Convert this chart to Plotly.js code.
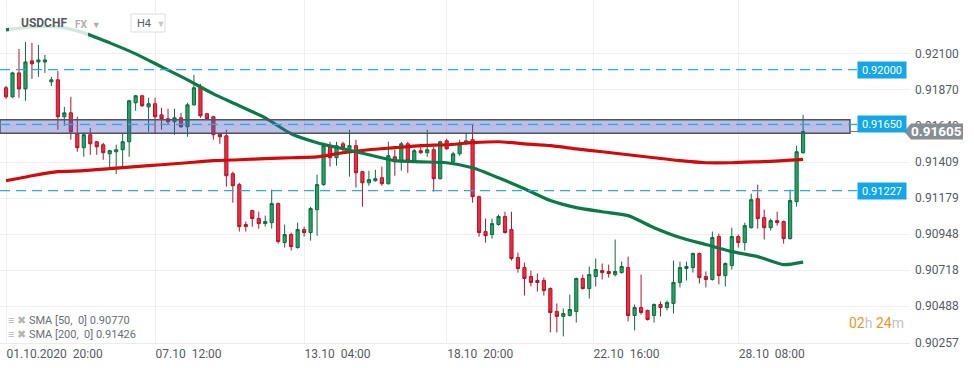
<!DOCTYPE html>
<html><head><meta charset="utf-8">
<script src="https://cdn.plot.ly/plotly-3.0.1.min.js"></script>
<style>html,body{margin:0;padding:0;background:#fff;}#chart{width:974px;height:368px;}</style>
</head><body><div id="chart"></div>
<script>
// ---- data (USDCHF, H4) ----
const openP = [0.91884,0.91826,0.91979,0.91877,0.92056,0.92049,0.92049,0.91922,0.91935,0.91699,0.91724,0.91590,0.91501,0.91584,0.91539,0.91520,0.91462,0.91475,0.91488,0.91539,0.91788,0.91833,0.91762,0.91782,0.91711,0.91686,0.91667,0.91692,0.91635,0.91775,0.91884,0.91718,0.91699,0.91590,0.91577,0.91335,0.91265,0.91010,0.91099,0.91048,0.91016,0.91022,0.91144,0.90895,0.90946,0.90863,0.90978,0.90959,0.91105,0.91265,0.91507,0.91437,0.91526,0.91494,0.91514,0.91348,0.91277,0.91290,0.91309,0.91271,0.91443,0.91411,0.91526,0.91418,0.91482,0.91469,0.91488,0.91303,0.91545,0.91411,0.91462,0.91526,0.91552,0.91188,0.90965,0.90946,0.91010,0.91061,0.90978,0.90799,0.90735,0.90678,0.90652,0.90652,0.90601,0.90454,0.90423,0.90429,0.90454,0.90665,0.90601,0.90678,0.90716,0.90710,0.90690,0.90703,0.90735,0.90429,0.90480,0.90461,0.90429,0.90499,0.90480,0.90506,0.90640,0.90729,0.90735,0.90825,0.90678,0.90659,0.90933,0.90684,0.90748,0.90933,0.90895,0.90990,0.91175,0.91054,0.90990,0.91035,0.91029,0.90920,0.91156,0.91469];
const highP = [0.91896,0.91986,0.92132,0.92177,0.92171,0.92158,0.92094,0.91954,0.91992,0.91762,0.91826,0.91699,0.91597,0.91628,0.91545,0.91533,0.91488,0.91520,0.91590,0.91807,0.91839,0.91839,0.91820,0.91820,0.91756,0.91750,0.91750,0.91724,0.91788,0.91967,0.91909,0.91724,0.91705,0.91597,0.91616,0.91348,0.91277,0.91029,0.91105,0.91092,0.91067,0.91233,0.91150,0.91010,0.90959,0.91022,0.90997,0.91124,0.91329,0.91533,0.91539,0.91539,0.91539,0.91616,0.91552,0.91354,0.91354,0.91360,0.91380,0.91539,0.91488,0.91539,0.91539,0.91494,0.91507,0.91616,0.91507,0.91545,0.91558,0.91475,0.91552,0.91597,0.91648,0.91195,0.91048,0.91048,0.91073,0.91092,0.91092,0.90831,0.90767,0.90716,0.90697,0.90671,0.90608,0.90506,0.90474,0.90562,0.90671,0.90690,0.90742,0.90793,0.90761,0.90754,0.90914,0.90773,0.90805,0.90499,0.90690,0.90467,0.90506,0.90518,0.90525,0.90780,0.90773,0.90773,0.90831,0.90831,0.90710,0.90965,0.90952,0.90767,0.90990,0.90946,0.91022,0.91207,0.91265,0.91105,0.91048,0.91092,0.91035,0.91233,0.91514,0.91711];
const lowP = [0.91813,0.91820,0.91820,0.91801,0.91941,0.91954,0.91979,0.91896,0.91616,0.91641,0.91552,0.91475,0.91443,0.91456,0.91456,0.91424,0.91373,0.91333,0.91380,0.91443,0.91737,0.91762,0.91603,0.91590,0.91616,0.91648,0.91584,0.91628,0.91571,0.91769,0.91692,0.91679,0.91552,0.91526,0.91252,0.91150,0.90965,0.90965,0.90997,0.90984,0.90997,0.90984,0.90888,0.90863,0.90844,0.90856,0.90933,0.90907,0.90939,0.91258,0.91380,0.91386,0.91469,0.91316,0.91246,0.91124,0.91258,0.91284,0.91258,0.91265,0.91322,0.91354,0.91341,0.91411,0.91462,0.91443,0.91220,0.91297,0.91488,0.91405,0.91450,0.91520,0.91150,0.90932,0.90895,0.90920,0.91003,0.90952,0.90780,0.90703,0.90556,0.90614,0.90582,0.90556,0.90321,0.90321,0.90295,0.90423,0.90384,0.90595,0.90537,0.90614,0.90659,0.90671,0.90678,0.90697,0.90391,0.90333,0.90435,0.90397,0.90384,0.90423,0.90461,0.90442,0.90608,0.90652,0.90703,0.90633,0.90608,0.90652,0.90627,0.90614,0.90722,0.90863,0.90844,0.90984,0.90984,0.90914,0.90971,0.91003,0.90888,0.90914,0.91124,0.91462];
const closeP = [0.91826,0.91979,0.91877,0.92049,0.92037,0.92062,0.92062,0.91935,0.91699,0.91724,0.91603,0.91501,0.91584,0.91526,0.91507,0.91469,0.91482,0.91488,0.91539,0.91801,0.91833,0.91769,0.91782,0.91699,0.91686,0.91667,0.91692,0.91635,0.91775,0.91884,0.91705,0.91686,0.91584,0.91571,0.91322,0.91258,0.90997,0.90997,0.91048,0.91016,0.91029,0.91144,0.90901,0.90946,0.90869,0.90978,0.90959,0.91112,0.91265,0.91514,0.91437,0.91514,0.91501,0.91514,0.91341,0.91277,0.91297,0.91303,0.91271,0.91450,0.91411,0.91526,0.91418,0.91482,0.91469,0.91488,0.91303,0.91539,0.91494,0.91462,0.91526,0.91545,0.91188,0.90959,0.90939,0.91016,0.91061,0.90959,0.90793,0.90729,0.90665,0.90640,0.90640,0.90588,0.90448,0.90423,0.90442,0.90467,0.90665,0.90601,0.90690,0.90722,0.90703,0.90697,0.90710,0.90742,0.90429,0.90480,0.90448,0.90403,0.90499,0.90480,0.90512,0.90640,0.90735,0.90742,0.90825,0.90671,0.90659,0.90927,0.90684,0.90761,0.90933,0.90895,0.91003,0.91169,0.91048,0.90990,0.91035,0.91022,0.90920,0.91163,0.91475,0.91605];

// moving averages, read at these candle positions
const smaIdx = [0,4,8,12,16,20,24,28,32,36,40,44,48,52,56,60,64,68,72,76,80,84,88,92,96,100,104,108,112,116,120,123];
const sma50 = [0.92254,0.92273,0.92273,0.92235,0.92171,0.92101,0.92018,0.91935,0.91845,0.91769,0.91692,0.91590,0.91533,0.91494,0.91456,0.91418,0.91411,0.91405,0.91373,0.91309,0.91239,0.91163,0.91118,0.91092,0.91067,0.90990,0.90927,0.90882,0.90837,0.90805,0.90754,0.90770];
const sma200 = [0.91290,0.91322,0.91348,0.91354,0.91367,0.91380,0.91392,0.91405,0.91418,0.91424,0.91431,0.91437,0.91443,0.91469,0.91488,0.91501,0.91514,0.91520,0.91533,0.91539,0.91526,0.91514,0.91494,0.91475,0.91456,0.91437,0.91418,0.91405,0.91405,0.91411,0.91418,0.91426];

const xTickIdx = [0, 23, 46, 68, 90.6, 113];
const xTickLabels = ['01.10.2020\u00a0\u00a020:00','07.10\u00a0\u00a012:00','13.10\u00a0\u00a004:00','18.10\u00a0\u00a020:00','22.10\u00a0\u00a016:00','28.10\u00a0\u00a008:00'];
const yTickVals = [0.90257,0.90488,0.90718,0.90948,0.91179,0.91409,0.91640,0.91870,0.92100];
const levels = [0.92000, 0.91650, 0.91227];
const zoneLow = 0.91594, zoneHigh = 0.91679;

// ---- layout helpers ----
const W = 974, H = 368, M = {l:0, r:64, t:0, b:25};
const PW = W - M.l - M.r, PH = H - M.t - M.b;
const Y0 = 0.90253, Y1 = 0.92445;
const px = p => p / PW;
const py = p => 1 - p / PH;
const yv = v => (v - Y0) / (Y1 - Y0);

const idx = openP.map((_, i) => i);
const FONT = 'Roboto, "Open Sans", sans-serif';

const traces = [
  {type:'candlestick', x: idx, open: openP, high: highP, low: lowP, close: closeP,
   increasing:{line:{color:'#0f6b3d', width:1}, fillcolor:'#22a466'},
   decreasing:{line:{color:'#b0152b', width:1}, fillcolor:'#f22a3e'},
   whiskerwidth:0, hoverinfo:'skip', showlegend:false},
  {type:'scatter', mode:'lines', x: smaIdx, y: sma200, line:{color:'#d40a0a', width:3.2, shape:'spline', smoothing:0.6}, hoverinfo:'skip', showlegend:false},
  {type:'scatter', mode:'lines', x: smaIdx, y: sma50, line:{color:'#0b7a48', width:3.2, shape:'spline', smoothing:0.6}, hoverinfo:'skip', showlegend:false}
];

const shapes = [];
shapes.push({type:'rect', xref:'paper', yref:'y', x0:0, x1:px(850), y0:zoneLow, y1:zoneHigh,
  fillcolor:'rgba(77,87,192,0.38)', line:{color:'#4b5563', width:1.5}, layer:'above'});
levels.forEach(l => shapes.push({type:'line', xref:'paper', yref:'y', x0:0, x1:px(857), y0:l, y1:l,
  line:{color:'#26aee8', width:1.4, dash:'10px,6px'}, layer:'above'}));
const last = closeP[closeP.length-1];
shapes.push({type:'line', xref:'paper', yref:'y', x0:px(850), x1:px(906), y0:last, y1:last, line:{color:'#6b7280', width:1}, layer:'above'});
const yc = yv(last), hh = 8/PH;
shapes.push({type:'path', xref:'paper', yref:'paper', layer:'above', fillcolor:'#878e93', line:{width:0},
  path:`M ${px(904)} ${yc} L ${px(911)} ${yc+hh} L ${px(963)} ${yc+hh} L ${px(963)} ${yc-hh} L ${px(911)} ${yc-hh} Z`});
shapes.push({type:'rect', xref:'paper', yref:'paper', x0:px(9), x1:px(88), y0:py(38), y1:py(12), fillcolor:'rgba(255,255,255,0.82)', line:{width:0}, layer:'above'});
shapes.push({type:'rect', xref:'paper', yref:'paper', x0:px(131), x1:px(165), y0:py(32), y1:py(14), fillcolor:'#ffffff', line:{color:'#dddddd', width:1}, layer:'above'});

const annotations = [];
levels.forEach(l => annotations.push({xref:'paper', yref:'y', x:px(857), y:l, xanchor:'left', yanchor:'middle',
  text:l.toFixed(5), showarrow:false, bgcolor:'#14a6e6', width:48, height:16, borderpad:0,
  font:{family:FONT, size:11, color:'#ffffff'}}));
annotations.push({xref:'paper', yref:'y', x:px(937), y:last, xanchor:'center', yanchor:'middle', showarrow:false,
  text:'<b>'+last.toFixed(5)+'</b>', font:{family:FONT, size:13.5, color:'#ffffff'}});
annotations.push({xref:'paper', yref:'paper', x:px(19), y:py(23), xanchor:'left', yanchor:'middle', showarrow:false,
  text:'<b>USDCHF</b>', font:{family:FONT, size:12, color:'#555b61'}});
annotations.push({xref:'paper', yref:'paper', x:px(73), y:py(24), xanchor:'left', yanchor:'middle', showarrow:false,
  text:'<b>FX</b>  <span style="font-size:9px">▼</span>', font:{family:FONT, size:10, color:'#b0b0b0'}});
annotations.push({xref:'paper', yref:'paper', x:px(135), y:py(23), xanchor:'left', yanchor:'middle', showarrow:false,
  text:'H4  <span style="font-size:9px;color:#c8c8c8">▼</span>', font:{family:FONT, size:11, color:'#555b61'}});
annotations.push({xref:'paper', yref:'paper', x:px(6), y:py(320), xanchor:'left', yanchor:'middle', showarrow:false,
  text:'<span style="color:#b5b5b5">≡ ✖</span> SMA [50,  0] '+sma50[sma50.length-1].toFixed(5), font:{family:FONT, size:11, color:'#6a6f74'}});
annotations.push({xref:'paper', yref:'paper', x:px(6), y:py(334), xanchor:'left', yanchor:'middle', showarrow:false,
  text:'<span style="color:#b5b5b5">≡ ✖</span> SMA [200,  0] '+sma200[sma200.length-1].toFixed(5), font:{family:FONT, size:11, color:'#6a6f74'}});
annotations.push({xref:'paper', yref:'paper', x:px(847), y:py(323), xanchor:'left', yanchor:'middle', showarrow:false,
  text:'<span style="color:#f7941d">02</span><span style="color:#c4c4c4">h</span> <span style="color:#f7941d">24</span><span style="color:#c4c4c4">m</span>',
  font:{family:FONT, size:14, color:'#f7941d'}});

const layout = {
  width: W, height: H, margin: M, paper_bgcolor:'#ffffff', plot_bgcolor:'#ffffff',
  showlegend:false, hovermode:false, dragmode:false,
  font:{family:FONT, color:'#555b61'},
  xaxis:{type:'linear', range:[-0.93, 139.5], rangeslider:{visible:false}, tickvals:xTickIdx, ticktext:xTickLabels,
    ticklabelposition:'outside right', showgrid:true, gridcolor:'#efefef', gridwidth:1, zeroline:false,
    showline:true, linecolor:'#ececec', ticks:'', tickfont:{family:FONT, size:12, color:'#555b61'}, fixedrange:true},
  yaxis:{side:'right', range:[Y0, Y1], tickvals:yTickVals, tickformat:'.5f', showgrid:true, gridcolor:'#efefef', gridwidth:1,
    zeroline:false, showline:false, ticks:'', ticklabelstandoff:4, tickfont:{family:FONT, size:12, color:'#555b61'}, fixedrange:true},
  shapes: shapes, annotations: annotations
};
Plotly.newPlot('chart', traces, layout, {staticPlot:true, displayModeBar:false});
</script></body></html>
